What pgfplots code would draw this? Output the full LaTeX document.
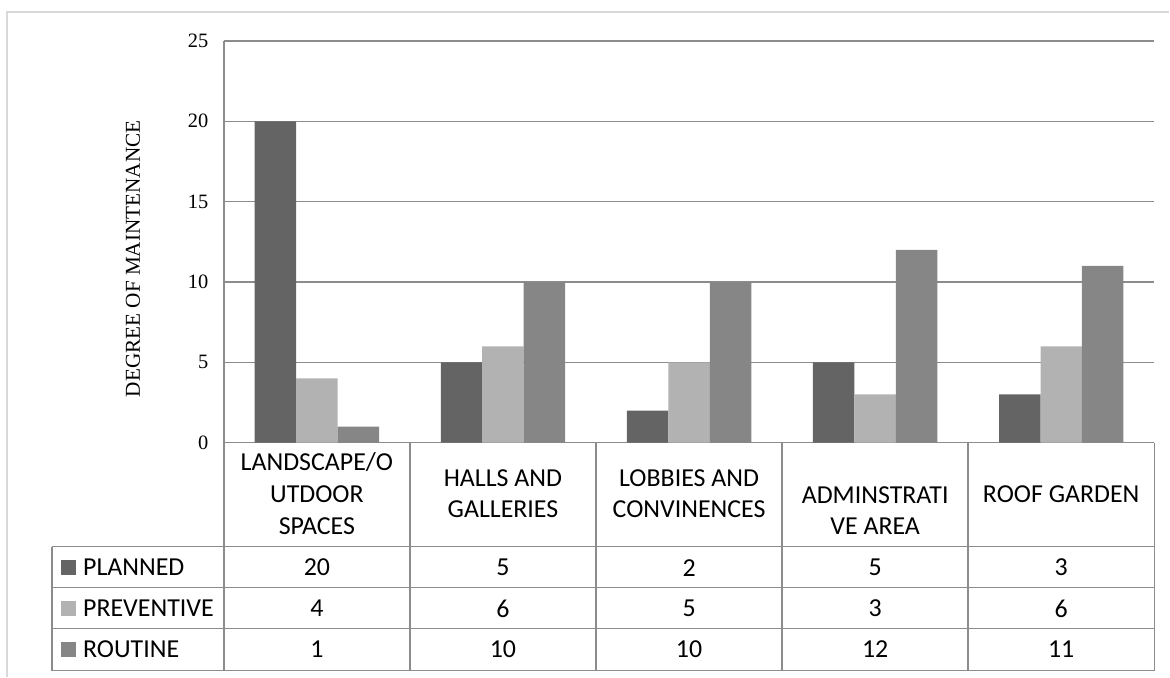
\documentclass[border=0pt]{standalone}
\usepackage{fontspec}
\setmainfont{Liberation Serif}
\newfontfamily\calibri{Carlito}
\usepackage{pgfplots}
\usepackage{pgfplotstable}
\pgfplotsset{compat=1.18}

\definecolor{planned}{HTML}{646464}
\definecolor{preventive}{HTML}{B2B2B2}
\definecolor{routine}{HTML}{868686}
\definecolor{rulegray}{HTML}{8C8C8C}
\definecolor{framegray}{HTML}{D9D9D9}

% degree of maintenance per area
\pgfplotstableread{
x planned preventive routine
0 20 4 1
1 5 6 10
2 2 5 10
3 5 3 12
4 3 6 11
}\maintdata

\begin{document}
\begin{tikzpicture}[x=1bp,y=1bp]
% page extent and outer frame
\path (0,0) rectangle (1170,677);
\draw[framegray, line width=1.5bp] (7,0) -- (7,665) -- (1170,665);

\begin{axis}[
  at={(224bp,234bp)}, anchor=south west,
  scale only axis, width=931bp, height=402bp,
  xmin=-0.5, xmax=4.5, ymin=0, ymax=25,
  ytick={0,5,...,25}, xtick=\empty,
  ymajorgrids, grid style={rulegray, line width=1.5bp},
  axis line style={draw=none},
  major tick length=0pt,
  yticklabel style={font=\fontsize{20.5}{20.5}\selectfont, xshift=-12bp},
  /pgf/number format/assume math mode=true,
  ybar=0pt, bar width=41.5bp,
  clip=false,
]
\addplot[fill=planned, draw=none] table[x=x,y=planned]{\maintdata};
\addplot[fill=preventive, draw=none] table[x=x,y=preventive]{\maintdata};
\addplot[fill=routine, draw=none] table[x=x,y=routine]{\maintdata};
\end{axis}

% y axis title
\node[rotate=90, font=\fontsize{21.3}{21.3}\selectfont] at (133,418) {DEGREE OF MAINTENANCE};

% data table grid
\begin{scope}[rulegray, line width=1.5bp]
  \draw (224,636) -- (224,6);
  \foreach \yy in {130,89,48,6} \draw (52,\yy) -- (1155,\yy);
  \draw (52,130) -- (52,6);
  \foreach \xx in {410.2,596.4,782.6,968.8,1155} \draw (\xx,234) -- (\xx,6);
\end{scope}

% category headers
\begin{scope}[font=\calibri\fontsize{26}{32}\selectfont, align=center]
  \node at (317.1,183) {LANDSCAPE/O\\UTDOOR\\SPACES};
  \node at (503.3,183) {HALLS AND\\GALLERIES};
  \node at (689.5,183) {LOBBIES AND\\CONVINENCES};
  \node at (875.7,166) {ADMINSTRATI\\VE AREA};
  \node at (1061.9,182) {ROOF GARDEN};
\end{scope}

% legend column
\begin{scope}[font=\calibri\fontsize{26}{30}\selectfont]
  \fill[planned] (61,102) rectangle (76,117);
  \node[anchor=west, inner sep=0pt] at (83,109) {PLANNED};
  \fill[preventive] (61,61) rectangle (76,76);
  \node[anchor=west, inner sep=0pt] at (83,68) {PREVENTIVE};
  \fill[routine] (61,20) rectangle (76,35);
  \node[anchor=west, inner sep=0pt] at (83,27) {ROUTINE};
\end{scope}

% table values
\foreach \i in {0,...,4} {
  \pgfmathsetmacro{\cx}{317.1+186.2*\i}
  \pgfplotstablegetelem{\i}{planned}\of\maintdata
  \node[font=\calibri\fontsize{26}{30}\selectfont] at (\cx,109) {\pgfplotsretval};
  \pgfplotstablegetelem{\i}{preventive}\of\maintdata
  \node[font=\calibri\fontsize{26}{30}\selectfont] at (\cx,68) {\pgfplotsretval};
  \pgfplotstablegetelem{\i}{routine}\of\maintdata
  \node[font=\calibri\fontsize{26}{30}\selectfont] at (\cx,27) {\pgfplotsretval};
}
\end{tikzpicture}
\end{document}
